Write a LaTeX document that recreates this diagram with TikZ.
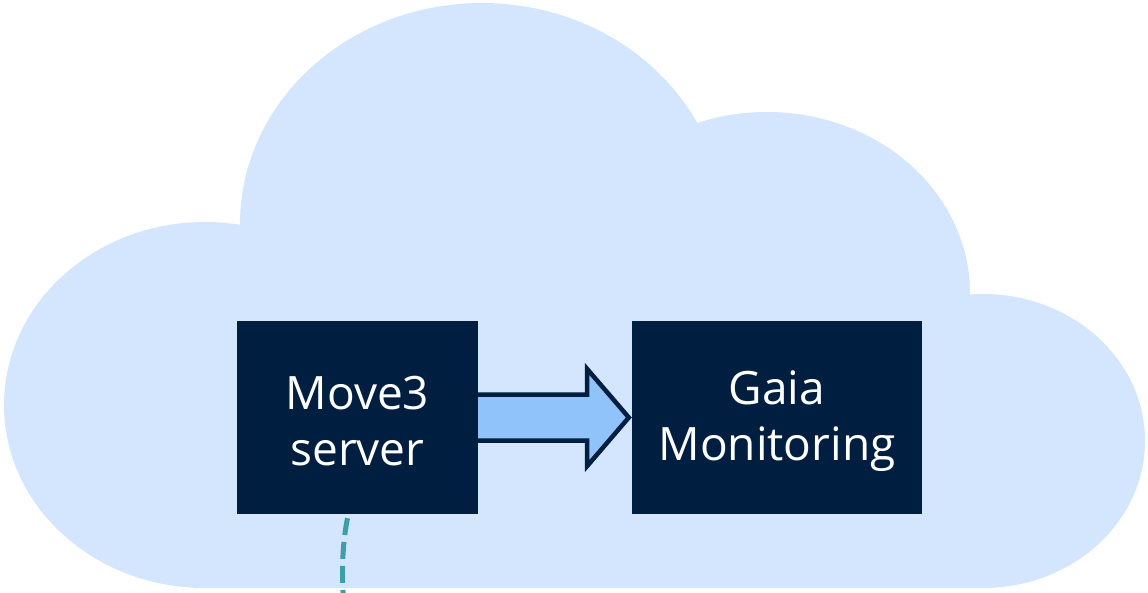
\documentclass[tikz,border=0pt]{standalone}
\usepackage{fontspec}
\setmainfont{Open Sans}
\usetikzlibrary{calc}
\definecolor{cloudblue}{HTML}{D4E6FD}
\definecolor{navy}{HTML}{001F40}
\definecolor{arrowfill}{HTML}{91C3FB}
\definecolor{tealdash}{HTML}{3C9EA9}
\tikzset{
  cloudpart/.style={fill=cloudblue, draw=none},
  darkbox/.style={fill=navy, draw=none, text=white, align=center, inner sep=0pt,
    font=\fontsize{46}{56}\selectfont},
  blockarrow/.style={fill=arrowfill, draw=navy, line width=4.5, line join=miter, miter limit=10},
  dashlink/.style={draw=tealdash, line width=5, dash pattern=on 17 off 7}
}
\begin{document}
\begin{tikzpicture}[x=1pt,y=-1pt]
\useasboundingbox (0,0) rectangle (1148,592);
% cloud
\fill[cloudpart] (205,405) ellipse [x radius=201, y radius=183];
\fill[cloudpart] (482,224) ellipse [x radius=242, y radius=221];
\fill[cloudpart] (767,293) ellipse [x radius=203, y radius=181];
\fill[cloudpart] (983,441) ellipse [x radius=162, y radius=147];
\fill[cloudpart] (198,405) rectangle (983,588);
% boxes
\node[darkbox, minimum width=241, minimum height=193] (m) at (357.5,417.5) {};
\node[darkbox, minimum width=290, minimum height=193] (g) at (777,417.5) {};
% arrow
\draw[blockarrow] ($(m.east)+(-3,-23)$) -- ($(m.east)+(109,-23)$) -- ($(m.east)+(109,-48.5)$)
  -- ($(g.west)+(-3,0)$) -- ($(m.east)+(109,48.5)$) -- ($(m.east)+(109,23)$) -- ($(m.east)+(-3,23)$) -- cycle;
\node[darkbox, minimum width=241, minimum height=193] at (m) {};
\node[darkbox] (mt) at ($(m)+(0,4)$) {Move3\\server};
\node[darkbox] (gt) at ($(g)+(0,4)$) {Gaia\\Monitoring};
% dashed link
\coordinate (d1) at ($(m.south)+(-10,4)$);
\coordinate (d2) at ($(m.south)+(-14,86)$);
\draw[dashlink] (d1) .. controls ($(d1)+(-5,25)$) and ($(d2)+(-2,-30)$) .. (d2);
\end{tikzpicture}
\end{document}
